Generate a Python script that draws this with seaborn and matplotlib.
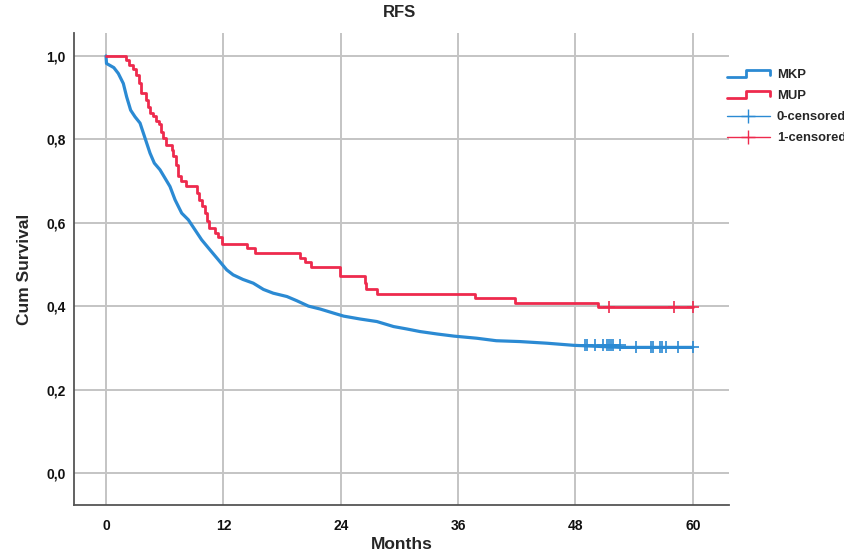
import numpy as np
import pandas as pd
import matplotlib
matplotlib.use("Agg")
import matplotlib.pyplot as plt
import seaborn as sns
from matplotlib.lines import Line2D
from matplotlib.legend_handler import HandlerBase

sns.set_theme(style="white")
plt.rcParams["font.family"] = ["Liberation Sans", "DejaVu Sans"]

# Kaplan-Meier estimates (months, cumulative survival)
mkp_time = [0, 0.05, 0.8, 1.26, 1.77, 2.11, 2.52, 2.97, 3.48, 3.82, 4.16, 4.5, 4.94,
            5.52, 6.03, 6.54, 7.06, 7.74, 8.42, 9.1, 9.78, 10.63, 11.49, 12.34, 13.0,
            14.0, 15.06, 16.1, 17.1, 18.5, 19.5, 20.7, 21.9, 23.3, 24.3, 26.0, 27.7,
            29.4, 30.8, 32.1, 33.9, 35.6, 37.9, 39.9, 42.3, 45.1, 47.8, 52.7, 60.0]
mkp_surv = [1.0, 0.982, 0.972, 0.958, 0.934, 0.902, 0.870, 0.854, 0.839, 0.815, 0.791,
            0.767, 0.743, 0.727, 0.707, 0.687, 0.655, 0.623, 0.607, 0.583, 0.559, 0.535,
            0.511, 0.487, 0.475, 0.464, 0.455, 0.440, 0.431, 0.423, 0.413, 0.400, 0.393,
            0.383, 0.376, 0.369, 0.363, 0.351, 0.345, 0.339, 0.333, 0.328, 0.323, 0.317,
            0.315, 0.311, 0.306, 0.301, 0.301]

mup_time = [0, 2.04, 2.39, 2.73, 3.07, 3.41, 3.55, 4.09, 4.33, 4.5, 4.77, 5.11, 5.45,
            5.62, 5.86, 6.13, 6.71, 6.89, 7.16, 7.4, 7.63, 8.18, 9.27, 9.54, 9.78,
            10.12, 10.29, 10.57, 11.15, 11.49, 11.83, 14.4, 15.2, 19.8, 20.35, 21.0,
            23.9, 26.5, 26.6, 27.7, 37.7, 41.8, 50.3, 60.0]
mup_surv = [1.0, 0.990, 0.978, 0.968, 0.954, 0.934, 0.912, 0.894, 0.878, 0.863, 0.855,
            0.845, 0.837, 0.818, 0.803, 0.787, 0.775, 0.759, 0.739, 0.711, 0.699, 0.688,
            0.671, 0.655, 0.639, 0.623, 0.603, 0.587, 0.576, 0.565, 0.549, 0.539, 0.527,
            0.515, 0.505, 0.495, 0.473, 0.455, 0.440, 0.429, 0.419, 0.407, 0.398, 0.398]

mkp_censored = [48.97, 49.2, 50.0, 50.8, 51.2, 51.4, 51.6, 51.8, 52.55, 54.2, 55.7,
                55.97, 56.6, 56.9, 57.3, 58.5, 60.0]
mup_censored = [51.4, 58.1, 60.0]

x_ticks = [0, 12, 24, 36, 48, 60]
y_ticks = [0.0, 0.2, 0.4, 0.6, 0.8, 1.0]
group_names = ["MKP", "MUP"]
censor_names = ["0-censored", "1-censored"]

BLUE = "#2b8ad3"
RED = "#ee2a4d"


def surv_at(times, surv, t_query):
    idx = np.searchsorted(np.asarray(times), np.asarray(t_query), side="right") - 1
    return np.asarray(surv)[idx]


fig = plt.figure(figsize=(8.45, 5.55), dpi=100)
ax = fig.add_axes([0.0876, 0.0901, 0.7751, 0.8504])

mkp_df = pd.DataFrame({"Months": mkp_time, "Cum Survival": mkp_surv})
mup_df = pd.DataFrame({"Months": mup_time, "Cum Survival": mup_surv})

sns.lineplot(data=mkp_df, x="Months", y="Cum Survival", ax=ax, color=BLUE,
             linewidth=2.3, estimator=None, sort=False, zorder=3)
sns.lineplot(data=mup_df, x="Months", y="Cum Survival", ax=ax, color=RED,
             linewidth=2.0, estimator=None, sort=False, drawstyle="steps-post", zorder=4)

sns.scatterplot(x=mkp_censored, y=surv_at(mkp_time, mkp_surv, mkp_censored), ax=ax,
                marker="+", s=70, linewidth=1.2, color=BLUE, zorder=5)
sns.scatterplot(x=mup_censored, y=surv_at(mup_time, mup_surv, mup_censored), ax=ax,
                marker="+", s=70, linewidth=1.2, color=RED, zorder=5)

ax.set_xlim(-3.27, 63.7)
ax.set_ylim(-0.077, 1.055)
ax.set_xticks(x_ticks)
ax.set_yticks(y_ticks)
ax.set_xticklabels([str(v) for v in x_ticks])
ax.set_yticklabels([f"{v:.1f}".replace(".", ",") for v in y_ticks])
ax.tick_params(axis="both", length=0, labelsize=10, colors="#111111")
ax.tick_params(axis="x", pad=10)
ax.tick_params(axis="y", pad=6)
for lab in ax.get_xticklabels() + ax.get_yticklabels():
    lab.set_fontweight("bold")

ax.grid(True, color="#c4c4c4", linewidth=1.4)
ax.set_axisbelow(True)
for side in ["top", "right"]:
    ax.spines[side].set_visible(False)
for side in ["left", "bottom"]:
    ax.spines[side].set_color("#555555")
    ax.spines[side].set_linewidth(1.3)

ax.set_xlabel("Months", fontsize=12.5, fontweight="bold", labelpad=3)
ax.set_ylabel("Cum Survival", fontsize=12.5, fontweight="bold", labelpad=10)
fig.text(0.473, 0.978, "RFS", ha="center", va="center", fontsize=12, fontweight="bold")


class StepHandler(HandlerBase):
    def create_artists(self, legend, orig_handle, xdescent, ydescent, width, height,
                       fontsize, trans):
        x0, x1 = -xdescent, -xdescent + width
        y0, y1 = -ydescent + 0.1 * height, -ydescent + 0.9 * height
        xs = [x0, x0 + 0.45 * width, x0 + 0.45 * width, x1, x1]
        ys = [y0, y0, y1, y1, y0 + 0.35 * (y1 - y0)]
        line = Line2D(xs, ys, color=orig_handle.get_color(), linewidth=2.0, transform=trans)
        return [line]


handles = [
    Line2D([], [], color=BLUE),
    Line2D([], [], color=RED),
    Line2D([0], [0], color=BLUE, linewidth=1.0, marker="+", markersize=10, markeredgewidth=1.0),
    Line2D([0], [0], color=RED, linewidth=1.0, marker="+", markersize=10, markeredgewidth=1.0),
]
leg = fig.legend(handles, group_names + censor_names, loc="upper left",
                 bbox_to_anchor=(0.846, 0.897), frameon=False, handlelength=3.3,
                 handletextpad=0.55, labelspacing=0.68,
                 handler_map={handles[0]: StepHandler(), handles[1]: StepHandler()},
                 prop={"weight": "bold", "size": 9.4})

fig.savefig("out.png", dpi=100)
